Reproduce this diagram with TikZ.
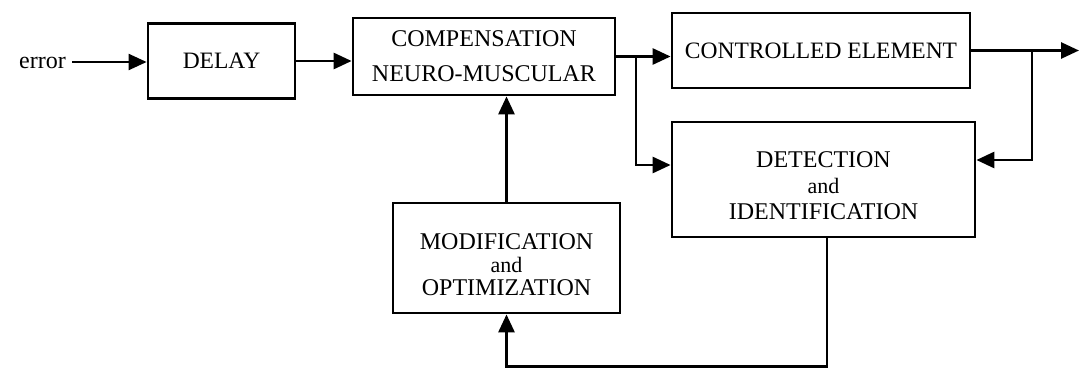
\documentclass[tikz,border=0pt]{standalone}
\usepackage{fontspec}
\setmainfont{Liberation Serif}
\usetikzlibrary{arrows.meta,calc}
\begin{document}
\begin{tikzpicture}[x=1pt,y=-1pt,
  blk/.style={draw,line width=2.8pt,inner sep=0pt,align=center,
    font=\fontsize{24}{27}\selectfont},
  conn/.style={line width=2.8pt},
  arr/.style={conn,-{Triangle[length=18pt,width=16pt]}},
  lbl/.style={font=\fontsize{24}{27}\selectfont,inner sep=0pt},
  andtxt/.style={font=\fontsize{22}{24}\selectfont}]
\useasboundingbox (0,0) rectangle (1080,369);

% blocks
\node[blk,minimum width=147pt,minimum height=75pt,font=\fontsize{23.5}{26}\selectfont]
  (delay) at (221.5,61) {DELAY};
\node[blk,minimum width=262pt,minimum height=77pt] (comp) at (484,56.5)
  {COMPENSATION\\[8pt]NEURO-MUSCULAR};
\node[blk,minimum width=298pt,minimum height=75pt,font=\fontsize{23.5}{26}\selectfont]
  (ctrl) at (821,50.5) {CONTROLLED ELEMENT};
\node[blk,minimum width=303pt,minimum height=115pt] (det) at (823.5,179.5) {};
\node[align=center,lbl] (dettxt) at (823.5,186)
  {DETECTION\\[-1pt]{\fontsize{22}{24}\selectfont and}\\[-1pt]IDENTIFICATION};
\node[blk,minimum width=227pt,minimum height=110pt] (mod) at (506.5,258) {};
\node[align=center,lbl] (modtxt) at (506.5,265)
  {MODIFICATION\\[-4pt]{\fontsize{22}{24}\selectfont and}\\[-4pt]OPTIMIZATION};

% input label
\node[lbl,anchor=east] (err) at (66,63) {error};
\coordinate (errend) at (72,62);

% connectors
\draw[arr,line width=2.2pt] (errend) -- (errend -| delay.west);
\draw[arr] (delay.east) -- (delay.east -| comp.west);
\draw[arr] (comp.east) -- (comp.east -| ctrl.west);
\coordinate (j1) at (636,56.5);
\draw[arr] (j1) |- ($(det.west)+(0,-14.5)$);
\coordinate (out) at (1079,50.5);
\draw[arr] (ctrl.east) -- (out);
\coordinate (j2) at (1032,50.5);
\draw[arr] (j2) |- ($(det.east)+(0,-19.5)$);
\draw[arr] (mod.north) -- (mod.north |- comp.south);
\draw[arr] ($(det.south)+(3.5,0)$) -- ++(0,128) -| (mod.south);
\end{tikzpicture}
\end{document}
